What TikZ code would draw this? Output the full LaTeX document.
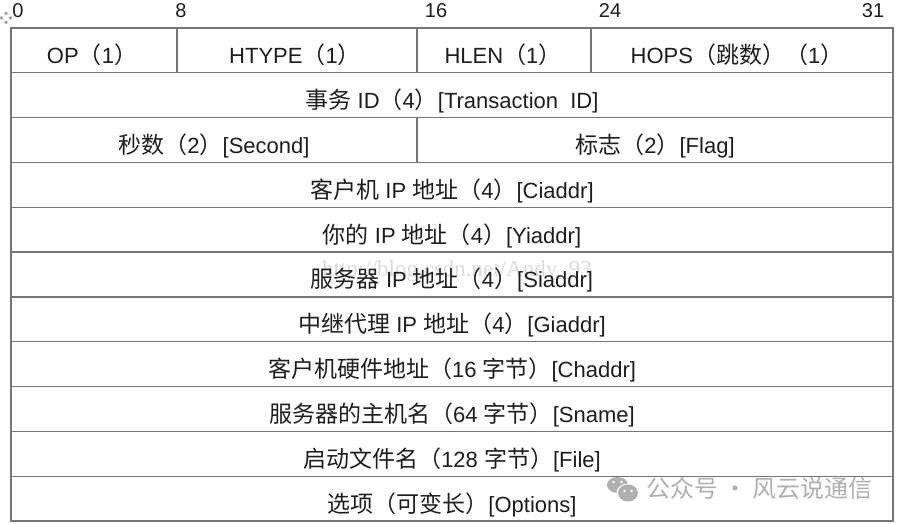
\documentclass[tikz,border=0pt]{standalone}
\usepackage{fontspec}
\setmainfont{Liberation Sans}
\newfontfamily\cjkf{Noto Sans CJK SC}
\newfontfamily\wmserif{Liberation Serif}
\newcommand\Z[1]{{\cjkf\fontsize{23}{26}\selectfont #1}}
\definecolor{gridgray}{HTML}{77776F}
\definecolor{textc}{HTML}{1E1E1E}
\definecolor{wmark}{HTML}{B0B0B0}
\definecolor{csdn}{HTML}{DCDCDC}
\begin{document}
\begin{tikzpicture}[x=1pt,y=-1pt,
  grid/.style={draw=gridgray,line width=1.2pt},
  lbl/.style={anchor=base,inner sep=0pt,font=\fontsize{22}{26}\selectfont,text=textc},
  bitlbl/.style={anchor=base,inner sep=0pt,font=\fontsize{20}{24}\selectfont,text=textc}]
\useasboundingbox (0,0) rectangle (899,524);
\fill[white] (0,0) rectangle (899,524);

% table handle icon
\foreach \p in {(6,13.5),(1.5,18),(10.5,18),(6,22.5)}
  \fill[gray!70] \p ++(0,-2) -- ++(2,2) -- ++(-2,2) -- ++(-2,-2) -- cycle;

% bit numbers
\node[bitlbl] (b0) at (18,17.5) {0};
\node[bitlbl] (b8) at (181,17.5) {8};
\node[bitlbl] (b16) at (436,17.5) {16};
\node[bitlbl] (b24) at (610,17.5) {24};
\node[bitlbl] (b31) at (873,17.5) {31};

% watermark (behind)
\node[anchor=base,inner sep=0pt,font=\wmserif\fontsize{23}{26}\selectfont,text=csdn] (wm1) at (457,276) {http://blog.csdn.net/Andy\_93};

% grid
\foreach \k in {1,...,10}
  \draw[grid] (11,{28+44.818*\k}) -- (893,{28+44.818*\k});
\draw[grid] (11,28) rectangle (893,521);
\draw[grid] (177,28) -- (177,72.8);
\draw[grid] (417,28) -- (417,72.8);
\draw[grid] (591,28) -- (591,72.8);
\draw[grid] (417,117.6) -- (417,162.5);

% labels
\node[lbl] (op) at (92,63.8) {OP\Z{（}1\Z{）}};
\node[lbl] (htype) at (295,63.8) {HTYPE\Z{（}1\Z{）}};
\node[lbl] (hlen) at (503,63.8) {HLEN\Z{（}1\Z{）}};
\node[lbl] (hops) at (737,63.8) {HOPS\Z{（跳数）（}1\Z{）}};
\node[lbl] (xid) at (452,108.6) {\Z{事务} ID\Z{（}4\Z{）}[Transaction\ \ ID]};
\node[lbl] (secs) at (214,153.5) {\Z{秒数（}2\Z{）}[Second]};
\node[lbl] (flag) at (655,153.5) {\Z{标志（}2\Z{）}[Flag]};
\node[lbl] (ciaddr) at (452,198.3) {\Z{客户机} IP \Z{地址（}4\Z{）}[Ciaddr]};
\node[lbl] (yiaddr) at (452,243.1) {\Z{你的} IP \Z{地址（}4\Z{）}[Yiaddr]};
\node[lbl] (siaddr) at (452,287.9) {\Z{服务器} IP \Z{地址（}4\Z{）}[Siaddr]};
\node[lbl] (giaddr) at (452,332.7) {\Z{中继代理} IP \Z{地址（}4\Z{）}[Giaddr]};
\node[lbl] (chaddr) at (452,377.5) {\Z{客户机硬件地址（}16 \Z{字节）}[Chaddr]};
\node[lbl] (sname) at (452,422.4) {\Z{服务器的主机名（}64 \Z{字节）}[Sname]};
\node[lbl] (file) at (452,467.2) {\Z{启动文件名（}128 \Z{字节）}[File]};
\node[lbl] (options) at (452,512) {\Z{选项（可变长）}[Options]};

% wechat watermark
\fill[wmark] (617.5,485) ellipse [x radius=10.5, y radius=8];
\fill[white] (628,493) ellipse [x radius=11.5, y radius=9.5];
\fill[wmark] (628,493) ellipse [x radius=10, y radius=8.5];
\fill[white] (613.5,482) circle (1.4) (621.5,482) circle (1.4);
\fill[white] (624.5,491) circle (1.3) (631.5,491) circle (1.3);
\node[anchor=west,inner sep=0pt,font=\cjkf\fontsize{24}{28}\selectfont,text=wmark] (wm2) at (646,488) {公众号 · 风云说通信};
\end{tikzpicture}
\end{document}
